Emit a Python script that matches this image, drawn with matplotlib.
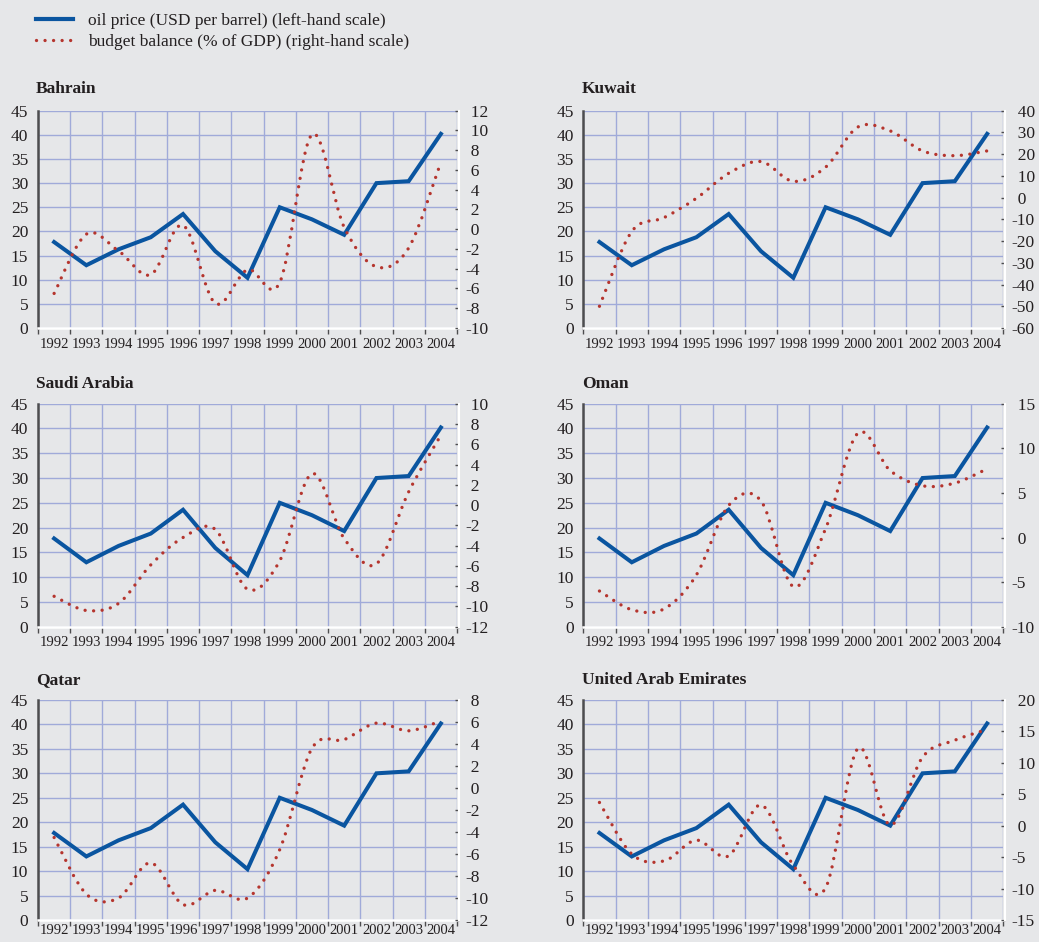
import matplotlib
matplotlib.use("Agg")
import numpy as np
import matplotlib.pyplot as plt
from matplotlib.path import Path
from matplotlib.patches import PathPatch
from matplotlib.lines import Line2D
from matplotlib.ticker import FuncFormatter

# ---------------- data ----------------
years = [str(y) for y in range(1992, 2005)]
oil_price = [17.8, 13.0, 16.3, 18.8, 23.6, 15.9, 10.4, 25.0, 22.5, 19.3, 30.0, 30.4, 40.2]

countries = ["Bahrain", "Kuwait", "Saudi Arabia", "Oman", "Qatar", "United Arab Emirates"]
bahrain = [-6.5, -0.5, -2.2, -4.6, 0.4, -7.5, -4.1, -5.4, 9.6, 0.2, -3.8, -1.9, 6.8]
kuwait = [-50.0, -15.6, -9.2, -0.3, 11.2, 16.6, 7.5, 14.0, 32.5, 30.7, 21.5, 19.3, 21.5]
saudi_arabia = [-9.0, -10.4, -9.7, -5.9, -3.2, -2.4, -8.3, -5.5, 3.1, -3.3, -5.8, 1.3, 6.9]
oman = [-6.0, -8.1, -8.0, -4.2, 3.6, 4.1, -5.5, 1.0, 11.7, 7.5, 5.8, 6.1, 7.7]
qatar = [-4.5, -9.65, -10.0, -6.8, -10.6, -9.3, -10.0, -5.6, 3.6, 4.4, 5.9, 5.2, 6.1]
uae = [3.7, -4.5, -5.6, -2.3, -4.8, 3.3, -6.3, -9.9, 12.3, 0.1, 10.9, 13.6, 15.3]
budget = [bahrain, kuwait, saudi_arabia, oman, qatar, uae]

# right-hand scale (min, max, step) per country
right_min = [-10, -60, -12, -10, -12, -15]
right_max = [12, 40, 10, 15, 8, 20]
right_step = [2, 10, 2, 5, 2, 5]
left_ticks = list(range(0, 50, 5))

legend_labels = ["oil price (USD per barrel) (left-hand scale)",
                 "budget balance (% of GDP) (right-hand scale)"]

# ---------------- style ----------------
plt.rcParams["font.family"] = ["Liberation Serif", "DejaVu Serif"]
BG = "#e6e7e9"
GRID = "#a0aad9"
BLUE = "#0a55a0"
RED = "#b5352e"
TXT = "#231f20"
DARK = "#4d4d4f"
DOT_LW = 2.4
DOT = (0, (0.01, 2.55))

W, H = 1039, 942
fig = plt.figure(figsize=(W / 100, H / 100), dpi=100, facecolor=BG)

col_x = [(38, 457), (583.3, 1003.3)]
row_y = [(110.7, 328.0), (403.7, 626.7), (700.0, 920.0)]
title_base = [93.3, 388.0, 684.0]
title_x = [36, 581.7]
xlabel_pad = [7, 7, 3]


def smooth_path(xs, ys):
    verts = [(xs[0], ys[0])]
    codes = [Path.MOVETO]
    n = len(xs)
    for i in range(n - 1):
        p0 = (xs[i - 1], ys[i - 1]) if i > 0 else (xs[i], ys[i])
        p1 = (xs[i], ys[i])
        p2 = (xs[i + 1], ys[i + 1])
        p3 = (xs[i + 2], ys[i + 2]) if i + 2 < n else p2
        c1 = (p1[0] + (p2[0] - p0[0]) / 6.0, p1[1] + (p2[1] - p0[1]) / 6.0)
        c2 = (p2[0] - (p3[0] - p1[0]) / 6.0, p2[1] - (p3[1] - p1[1]) / 6.0)
        verts += [c1, c2, p2]
        codes += [Path.CURVE4] * 3
    return Path(verts, codes)


def right_fmt(v, pos):
    iv = int(round(v))
    return "-%d" % abs(iv) if iv < 0 else "\u2004%d" % iv


x = np.arange(len(years))
for k, name in enumerate(countries):
    r, c = divmod(k, 2)
    x0, x1 = col_x[c]
    y0, y1 = row_y[r]
    ax = fig.add_axes([x0 / W, 1 - y1 / H, (x1 - x0) / W, (y1 - y0) / H])
    ax.set_facecolor(BG)
    ax.set_xlim(-0.5, len(years) - 0.5)
    ax.set_ylim(0, 45)
    ax.set_yticks(left_ticks)
    ax.set_xticks(x)
    ax.set_xticklabels(years)
    ax.set_xticks(np.arange(-0.5, len(years), 1.0), minor=True)
    ax.set_axisbelow(True)
    ax.grid(which="minor", axis="x", color=GRID, lw=1.0)
    ax.grid(which="major", axis="y", color=GRID, lw=1.0)
    ax.tick_params(axis="x", which="major", length=0, pad=xlabel_pad[r],
                   labelsize=10.5, labelcolor=TXT)
    ax.tick_params(axis="x", which="minor", length=4, width=1, color=DARK, direction="out")
    ax.tick_params(axis="y", length=0, pad=7, labelsize=12.5, labelcolor=TXT)
    for s in ("top", "right"):
        ax.spines[s].set_visible(False)
    ax.spines["left"].set_color(DARK)
    ax.spines["left"].set_linewidth(1.8)
    ax.spines["bottom"].set_color("white")
    ax.spines["bottom"].set_linewidth(1.8)

    ax.plot(x, oil_price, color=BLUE, lw=2.9, solid_joinstyle="miter", zorder=3)

    ax2 = ax.twinx()
    ax2.set_ylim(right_min[k], right_max[k])
    ax2.set_yticks(np.arange(right_min[k], right_max[k] + 0.1, right_step[k]))
    ax2.yaxis.set_major_formatter(FuncFormatter(right_fmt))
    ax2.tick_params(axis="y", direction="in", length=3, width=1, color=DARK,
                    pad=4.5, labelsize=12.5, labelcolor=TXT)
    for s in ("top", "left", "bottom"):
        ax2.spines[s].set_visible(False)
    ax2.spines["right"].set_color("white")
    ax2.spines["right"].set_linewidth(1.5)
    ax2.spines["right"].set_position(("outward", 1.5))

    patch = PathPatch(smooth_path(list(x), budget[k]), transform=ax2.transData,
                      fill=False, edgecolor=RED, lw=DOT_LW, linestyle=DOT,
                      capstyle="round", zorder=4)
    ax2.add_patch(patch)

    fig.text(title_x[c] / W, 1 - title_base[r] / H, name, fontsize=12.5,
             fontweight="bold", color=TXT, va="baseline", ha="left")

handles = [
    Line2D([0], [0], color=BLUE, lw=3.0),
    Line2D([0], [0], color=RED, lw=DOT_LW, linestyle=DOT, dash_capstyle="round"),
]
fig.legend(handles, legend_labels, loc="upper left",
           bbox_to_anchor=(36 / W, 1 - 13 / H), frameon=False,
           fontsize=12.5, handlelength=2.15, handletextpad=0.85,
           labelspacing=0.28, borderpad=0, borderaxespad=0, labelcolor=TXT)

fig.savefig("out.png", dpi=100, facecolor=BG)
